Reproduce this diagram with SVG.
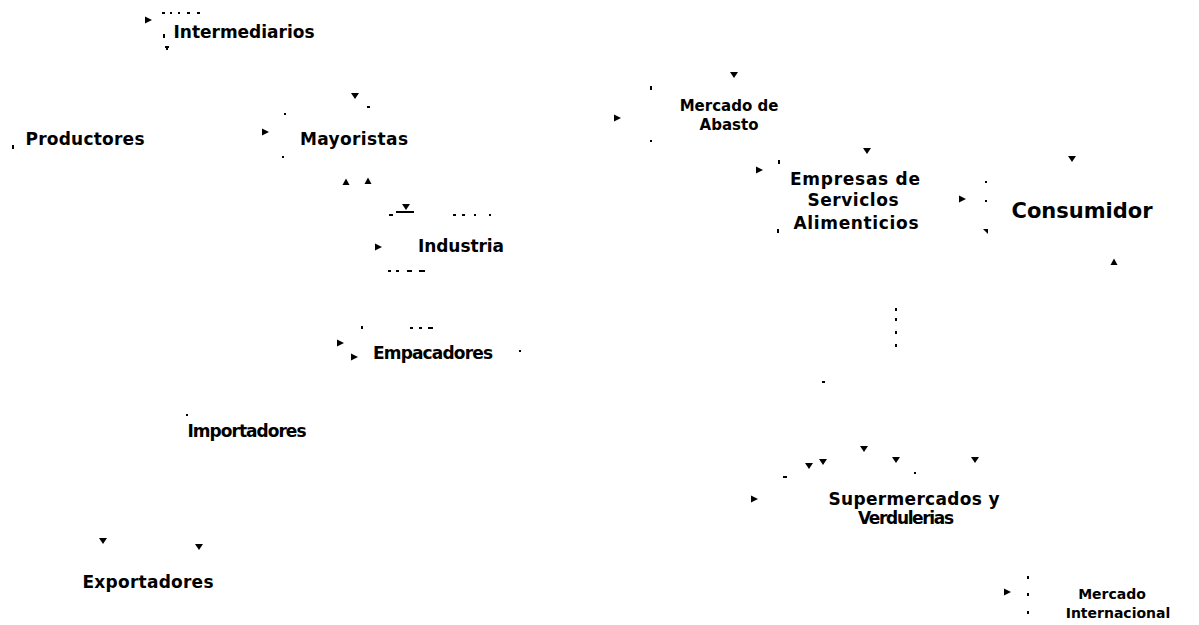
<svg xmlns="http://www.w3.org/2000/svg" width="1199" height="625" viewBox="0 0 1199 625">
<style>
text{font-family:"DejaVu Sans","Liberation Sans",sans-serif;font-weight:bold;font-size:17px;fill:#000;text-anchor:middle}
.big{font-size:21px}
.sm{font-size:15px}
.xs{font-size:14px}
.f{fill:#000}
</style>
<defs>
<path id="dn" d="M-4,-3 L4,-3 L0,3 Z"/>
<path id="rt" d="M-3,-3.5 L4,0 L-3,3.5 Z"/>
<path id="up" d="M-3.5,3 L3.5,3 L0,-3.5 Z"/>
</defs>
<rect width="1199" height="625" fill="#fff"/>
<g id="connectors" class="f">
<use href="#rt" x="148" y="20"/>
<rect x="162" y="12" width="3" height="2"/><rect x="170" y="12" width="2" height="2"/><rect x="178" y="12" width="2" height="2"/><rect x="187" y="12" width="3" height="2"/><rect x="197" y="12" width="3" height="2"/>
<rect x="165" y="46" width="4" height="2"/><rect x="166" y="46" width="2" height="4"/>
<rect x="163" y="34" width="2" height="4"/>
<rect x="12" y="145" width="2" height="4"/>
<use href="#dn" x="355" y="96"/>
<rect x="367" y="106" width="3" height="2"/>
<rect x="284" y="113" width="2" height="2"/>
<use href="#rt" x="265" y="132"/>
<rect x="282" y="156" width="2" height="2"/>
<use href="#up" x="346" y="182"/>
<use href="#up" x="368" y="181"/>
<use href="#dn" x="406" y="207"/>
<rect x="396" y="211" width="18" height="2"/><rect x="389" y="214" width="4" height="2"/>
<rect x="453" y="214" width="3" height="2"/><rect x="462" y="214" width="3" height="2"/><rect x="474" y="214" width="2" height="2"/><rect x="489" y="214" width="2" height="2"/>
<use href="#rt" x="378" y="247"/>
<rect x="388" y="270" width="3" height="2"/><rect x="396" y="270" width="3" height="2"/><rect x="407" y="270" width="5" height="2"/><rect x="419" y="270" width="6" height="2"/>
<rect x="361" y="326" width="2" height="3"/><rect x="410" y="327" width="3" height="2"/><rect x="419" y="327" width="3" height="2"/><rect x="428" y="327" width="5" height="2"/>
<use href="#rt" x="340" y="343"/>
<use href="#rt" x="354" y="357"/>
<rect x="519" y="350" width="2" height="2"/>
<use href="#dn" x="734" y="75"/>
<rect x="650" y="86" width="2" height="4"/>
<use href="#rt" x="617" y="118"/>
<rect x="650" y="140" width="2" height="2"/>
<use href="#dn" x="867" y="151"/>
<use href="#rt" x="759" y="170"/>
<rect x="778" y="160" width="2" height="4"/>
<rect x="777" y="229" width="2" height="4"/>
<use href="#rt" x="962" y="199"/>
<rect x="985" y="181" width="2" height="2"/><rect x="985" y="200" width="2" height="2"/>
<path d="M983,229 L988,229 L988,234 Z"/>
<use href="#dn" x="1072" y="159"/>
<use href="#up" x="1114" y="262"/>
<rect x="895" y="308" width="2" height="3"/><rect x="895" y="318" width="2" height="3"/><rect x="895" y="331" width="2" height="3"/><rect x="895" y="344" width="2" height="3"/>
<rect x="822" y="381" width="3" height="2"/>
<use href="#dn" x="809" y="466"/>
<use href="#dn" x="823" y="462"/>
<use href="#dn" x="864" y="449"/>
<use href="#dn" x="896" y="460"/>
<use href="#dn" x="975" y="460"/>
<rect x="783" y="476" width="4" height="2"/>
<rect x="914" y="472" width="2" height="2"/>
<use href="#rt" x="754" y="499"/>
<use href="#rt" x="1007" y="592"/>
<rect x="1027" y="576" width="2" height="3"/><rect x="1027" y="593" width="2" height="3"/><rect x="1027" y="611" width="2" height="3"/>
<use href="#dn" x="103" y="541"/>
<use href="#dn" x="199" y="547"/>
<rect x="186" y="414" width="2" height="2"/>
</g>
<g id="n-intermediarios"><text x="244" y="38" textLength="141">Intermediarios</text></g>
<g id="n-productores"><text x="85" y="145" textLength="119">Productores</text></g>
<g id="n-mayoristas"><text x="354" y="145" textLength="108">Mayoristas</text></g>
<g id="n-industria"><text x="461" y="252" textLength="86">Industria</text></g>
<g id="n-empacadores"><text x="433" y="359" textLength="120">Empacadores</text></g>
<g id="n-importadores"><text x="247" y="437" textLength="119">Importadores</text></g>
<g id="n-exportadores"><text x="148" y="588" textLength="131">Exportadores</text></g>
<g id="n-mercado-abasto"><text class="sm" x="729" y="111">Mercado de</text><text class="sm" x="729" y="130">Abasto</text></g>
<g id="n-empresas"><text x="855" y="185" textLength="130">Empresas de</text><text x="853" y="206" textLength="91">Serviclos</text><text x="856" y="229" textLength="125">Alimenticios</text></g>
<g id="n-consumidor"><text class="big" x="1082" y="218" textLength="141">Consumidor</text></g>
<g id="n-supermercados"><text x="914" y="505" textLength="171">Supermercados y</text><text x="906" y="524" textLength="96">Verdulerias</text></g>
<g id="n-mercado-internacional"><text class="xs" x="1112" y="599">Mercado</text><text class="xs" x="1118" y="618">Internacional</text></g>
</svg>
